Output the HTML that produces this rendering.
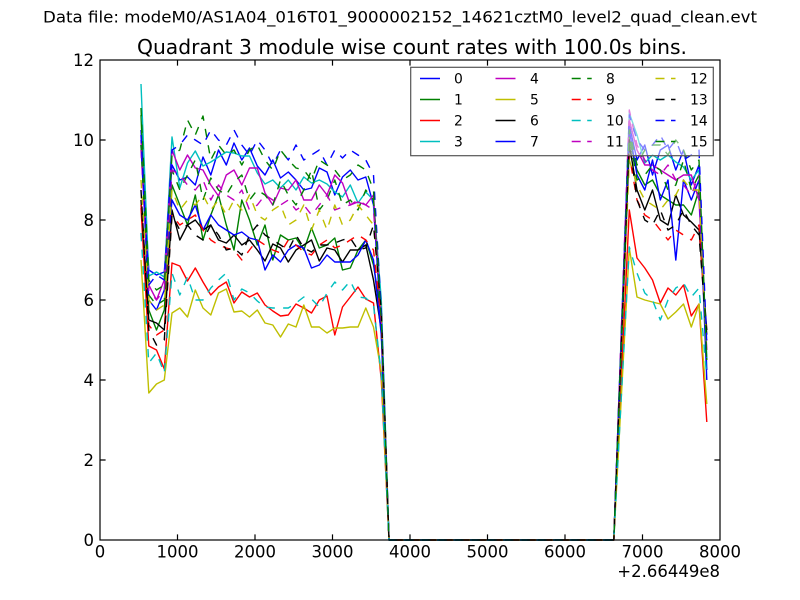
<!DOCTYPE html>
<html><head><meta charset="utf-8"><style>
html,body{margin:0;padding:0;background:#fff;}
svg{display:block;}
text{font-family:"DejaVu Sans","Liberation Sans",sans-serif;fill:#000;}
</style></head><body>
<svg width="800" height="600" viewBox="0 0 800 600" xmlns="http://www.w3.org/2000/svg">
<rect x="0" y="0" width="800" height="600" fill="#fff"/>
<text x="400" y="22.5" font-size="16" text-anchor="middle" textLength="714" lengthAdjust="spacingAndGlyphs">Data file: modeM0/AS1A04_016T01_9000002152_14621cztM0_level2_quad_clean.evt</text>
<text x="412" y="54" font-size="20" text-anchor="middle" textLength="550" lengthAdjust="spacingAndGlyphs">Quadrant 3 module wise count rates with 100.0s bins.</text>
<rect x="100" y="60" width="620" height="480" fill="#fff"/>
<g fill="none" stroke-width="1.4" stroke-linejoin="round">
<polyline stroke="#0000ff" points="141,130 148.8,270 156.5,275 164.3,272 172,165 179.8,180 187.5,177 195.3,185 203,157 210.8,175 218.5,150 226.3,165 234,143 241.8,160 249.5,148 257.3,166 265,175 272.8,160 280.5,178 288.3,172 296,180 303.8,190 311.5,188 319.3,168 327,172 334.8,195 342.5,177 350.3,170 358,180 365.8,177 373.5,205 381.3,330 389,540 613.8,540 621.5,332 629.3,125 637,160 644.8,145 652.5,175 660.3,150 668,145 675.8,170 683.5,150 691.3,185 699,165 706.8,370"/>
<polyline stroke="#008000" points="141,115 148.8,310 156.5,330 164.3,310 172,185 179.8,205 187.5,225 195.3,195 203,240 210.8,215 218.5,195 226.3,225 234,250 241.8,200 249.5,220 257.3,245 265,225 272.8,260 280.5,235 288.3,240 296,238 303.8,250 311.5,228 319.3,248 327,245 334.8,238 342.5,270 350.3,268 358,250 365.8,240 373.5,265 381.3,315 389,540 613.8,540 621.5,340 629.3,140 637,170 644.8,185 652.5,180 660.3,195 668,200 675.8,205 683.5,205 691.3,215 699,190 706.8,360"/>
<polyline stroke="#ff0000" points="141,208 148.8,346 156.5,350 164.3,369 172,263 179.8,266 187.5,281 195.3,268 203,282 210.8,295 218.5,287 226.3,282 234,303 241.8,292 249.5,297 257.3,293 265,305 272.8,311 280.5,316 288.3,315 296,304 303.8,308 311.5,313 319.3,300 327,296 334.8,335 342.5,307 350.3,297 358,287 365.8,299 373.5,303 381.3,380 389,540 613.8,540 621.5,375 629.3,210 637,258 644.8,268 652.5,280 660.3,303 668,288 675.8,295 683.5,285 691.3,316 699,304 706.8,422"/>
<polyline stroke="#00bfbf" points="141,84 148.8,276 156.5,272 164.3,277 172,137 179.8,188 187.5,163 195.3,151 203,166 210.8,162 218.5,157 226.3,152 234,153 241.8,156 249.5,156 257.3,173 265,184 272.8,180 280.5,188 288.3,180 296,190 303.8,177 311.5,183 319.3,180 327,184 334.8,192 342.5,197 350.3,185 358,203 365.8,192 373.5,200 381.3,300 389,540 613.8,540 621.5,327 629.3,113 637,135 644.8,163 652.5,155 660.3,160 668,155 675.8,162 683.5,167 691.3,180 699,170 706.8,360"/>
<polyline stroke="#bf00bf" points="141,140 148.8,285 156.5,300 164.3,280 172,150 179.8,170 187.5,155 195.3,168 203,170 210.8,185 218.5,196 226.3,175 234,170 241.8,185 249.5,168 257.3,168 265,193 272.8,205 280.5,188 288.3,190 296,180 303.8,200 311.5,200 319.3,185 327,195 334.8,175 342.5,183 350.3,205 358,202 365.8,205 373.5,195 381.3,320 389,540 613.8,540 621.5,330 629.3,120 637,150 644.8,165 652.5,165 660.3,170 668,175 675.8,180 683.5,175 691.3,175 699,200 706.8,350"/>
<polyline stroke="#bfbf00" points="141,260 148.8,393 156.5,384 164.3,380 172,313 179.8,308 187.5,317 195.3,290 203,308 210.8,315 218.5,293 226.3,289 234,312 241.8,311 249.5,317 257.3,310 265,323 272.8,325 280.5,337 288.3,324 296,327 303.8,305 311.5,327 319.3,327 327,333 334.8,328 342.5,328 350.3,327 358,327 365.8,308 373.5,327 381.3,372 389,540 613.8,540 621.5,394 629.3,248 637,297 644.8,300 652.5,302 660.3,304 668,319 675.8,312 683.5,304 691.3,327 699,304 706.8,404"/>
<polyline stroke="#000000" points="141,200 148.8,320 156.5,323 164.3,330 172,210 179.8,240 187.5,225 195.3,220 203,230 210.8,225 218.5,240 226.3,243 234,235 241.8,245 249.5,240 257.3,250 265,261 272.8,244 280.5,248 288.3,262 296,250 303.8,245 311.5,240 319.3,261 327,248 334.8,250 342.5,262 350.3,250 358,250 365.8,245 373.5,280 381.3,330 389,540 613.8,540 621.5,345 629.3,145 637,190 644.8,210 652.5,190 660.3,220 668,225 675.8,195 683.5,215 691.3,222 699,230 706.8,330"/>
<polyline stroke="#0000ff" points="141,145 148.8,300 156.5,310 164.3,290 172,200 179.8,215 187.5,220 195.3,205 203,230 210.8,215 218.5,225 226.3,230 234,235 241.8,232 249.5,238 257.3,240 265,270 272.8,255 280.5,262 288.3,250 296,245 303.8,248 311.5,268 319.3,265 327,255 334.8,262 342.5,262 350.3,262 358,255 365.8,240 373.5,260 381.3,335 389,540 613.8,540 621.5,335 629.3,130 637,175 644.8,190 652.5,160 660.3,200 668,180 675.8,260 683.5,180 691.3,200 699,180 706.8,380"/>
<g stroke-dasharray="8.3,8.3">
<polyline stroke="#008000" points="141,145 148.8,295 156.5,305 164.3,300 172,170 179.8,190 187.5,175 195.3,160 203,200 210.8,178 218.5,190 226.3,195 234,182 241.8,175 249.5,200 257.3,190 265,195 272.8,205 280.5,180 288.3,195 296,205 303.8,190 311.5,170 319.3,210 327,200 334.8,180 342.5,205 350.3,200 358,210 365.8,190 373.5,200 381.3,320 389,540 613.8,540 621.5,337 629.3,135 637,180 644.8,175 652.5,165 660.3,170 668,190 675.8,185 683.5,160 691.3,190 699,175 706.8,365"/>
<polyline stroke="#ff0000" points="141,205 148.8,325 156.5,335 164.3,330 172,215 179.8,225 187.5,220 195.3,215 203,230 210.8,240 218.5,245 226.3,248 234,250 241.8,260 249.5,250 257.3,240 265,245 272.8,250 280.5,253 288.3,240 296,245 303.8,252 311.5,255 319.3,245 327,240 334.8,248 342.5,245 350.3,240 358,235 365.8,240 373.5,250 381.3,320 389,540 613.8,540 621.5,347 629.3,155 637,200 644.8,215 652.5,220 660.3,230 668,240 675.8,230 683.5,235 691.3,240 699,225 706.8,340"/>
<polyline stroke="#00bfbf" points="141,233 148.8,363 156.5,353 164.3,373 172,273 179.8,295 187.5,277 195.3,300 203,300 210.8,288 218.5,280 226.3,273 234,300 241.8,289 249.5,293 257.3,301 265,307 272.8,308 280.5,308 288.3,308 296,303 303.8,297 311.5,299 319.3,307 327,293 334.8,282 342.5,290 350.3,281 358,297 365.8,298 373.5,305 381.3,375 389,540 613.8,540 621.5,393 629.3,247 637,273 644.8,293 652.5,300 660.3,320 668,300 675.8,288 683.5,283 691.3,297 699,288 706.8,377"/>
<polyline stroke="#bf00bf" points="141,150 148.8,290 156.5,300 164.3,290 172,170 179.8,175 187.5,185 195.3,190 203,180 210.8,200 218.5,185 226.3,195 234,200 241.8,190 249.5,210 257.3,205 265,195 272.8,200 280.5,205 288.3,200 296,210 303.8,205 311.5,215 319.3,205 327,195 334.8,210 342.5,207 350.3,205 358,200 365.8,205 373.5,210 381.3,315 389,540 613.8,540 621.5,325 629.3,110 637,145 644.8,160 652.5,170 660.3,175 668,165 675.8,180 683.5,185 691.3,195 699,175 706.8,355"/>
<polyline stroke="#bfbf00" points="141,180 148.8,300 156.5,310 164.3,305 172,190 179.8,210 187.5,200 195.3,205 203,195 210.8,210 218.5,200 226.3,215 234,200 241.8,210 249.5,195 257.3,215 265,220 272.8,210 280.5,205 288.3,225 296,220 303.8,205 311.5,230 319.3,210 327,230 334.8,205 342.5,225 350.3,220 358,205 365.8,215 373.5,225 381.3,310 389,540 613.8,540 621.5,350 629.3,160 637,185 644.8,200 652.5,205 660.3,210 668,200 675.8,195 683.5,180 691.3,190 699,190 706.8,350"/>
<polyline stroke="#000000" points="141,190 148.8,330 156.5,345 164.3,340 172,215 179.8,230 187.5,225 195.3,235 203,240 210.8,225 218.5,235 226.3,250 234,248 241.8,255 249.5,235 257.3,225 265,235 272.8,240 280.5,245 288.3,250 296,235 303.8,248 311.5,252 319.3,245 327,245 334.8,243 342.5,240 350.3,238 358,250 365.8,248 373.5,225 381.3,310 389,540 613.8,540 621.5,340 629.3,140 637,200 644.8,220 652.5,225 660.3,210 668,230 675.8,225 683.5,210 691.3,225 699,235 706.8,335"/>
<polyline stroke="#0000ff" points="141,135 148.8,285 156.5,275 164.3,280 172,150 179.8,145 187.5,135 195.3,140 203,145 210.8,130 218.5,140 226.3,145 234,130 241.8,145 249.5,155 257.3,140 265,150 272.8,165 280.5,150 288.3,160 296,145 303.8,160 311.5,155 319.3,150 327,165 334.8,150 342.5,158 350.3,150 358,155 365.8,160 373.5,175 381.3,310 389,540 613.8,540 621.5,330 629.3,115 637,140 644.8,150 652.5,145 660.3,135 668,150 675.8,140 683.5,160 691.3,155 699,150 706.8,345"/>
<polyline stroke="#008000" points="141,108 148.8,280 156.5,290 164.3,285 172,155 179.8,150 187.5,120 195.3,135 203,116 210.8,160 218.5,145 226.3,155 234,150 241.8,165 249.5,150 257.3,145 265,160 272.8,170 280.5,150 288.3,160 296,168 303.8,170 311.5,180 319.3,160 327,165 334.8,170 342.5,180 350.3,175 358,165 365.8,170 373.5,190 381.3,320 389,540 613.8,540 621.5,335 629.3,130 637,165 644.8,150 652.5,145 660.3,145 668,155 675.8,140 683.5,150 691.3,170 699,160 706.8,360"/>
</g>
</g>
<!-- axes frame and ticks -->
<g stroke="#000" stroke-width="1.2" fill="none">
<rect x="100" y="60" width="620" height="480"/>
<path d="M177.5,540v-5.6M255,540v-5.6M332.5,540v-5.6M410,540v-5.6M487.5,540v-5.6M565,540v-5.6M642.5,540v-5.6
M177.5,60v5.6M255,60v5.6M332.5,60v5.6M410,60v5.6M487.5,60v5.6M565,60v5.6M642.5,60v5.6
M100,460h5.6M100,380h5.6M100,300h5.6M100,220h5.6M100,140h5.6
M720,460h-5.6M720,380h-5.6M720,300h-5.6M720,220h-5.6M720,140h-5.6"/>
</g>
<g font-size="16.5" text-anchor="middle">
<text x="100" y="557.5">0</text>
<text x="177.5" y="557.5">1000</text>
<text x="255" y="557.5">2000</text>
<text x="332.5" y="557.5">3000</text>
<text x="410" y="557.5">4000</text>
<text x="487.5" y="557.5">5000</text>
<text x="565" y="557.5">6000</text>
<text x="642.5" y="557.5">7000</text>
<text x="720" y="557.5">8000</text>
</g>
<text x="720" y="577" font-size="16.5" text-anchor="end">+2.66449e8</text>
<g font-size="16.5" text-anchor="end">
<text x="94" y="546">0</text>
<text x="94" y="466">2</text>
<text x="94" y="386">4</text>
<text x="94" y="306">6</text>
<text x="94" y="226">8</text>
<text x="94" y="146">10</text>
<text x="94" y="66">12</text>
</g>
<!-- legend -->
<rect x="410.7" y="67.3" width="302.6" height="88.4" fill="#fff" fill-opacity="0.5" stroke="#555" stroke-width="1.2"/>
<g fill="none" stroke-width="1.4">
<line x1="420" y1="78.5" x2="440" y2="78.5" stroke="#0000ff"/>
<line x1="420" y1="99.5" x2="440" y2="99.5" stroke="#008000"/>
<line x1="420" y1="120.5" x2="440" y2="120.5" stroke="#ff0000"/>
<line x1="420" y1="141.5" x2="440" y2="141.5" stroke="#00bfbf"/>
<line x1="495.5" y1="78.5" x2="515.5" y2="78.5" stroke="#bf00bf"/>
<line x1="495.5" y1="99.5" x2="515.5" y2="99.5" stroke="#bfbf00"/>
<line x1="495.5" y1="120.5" x2="515.5" y2="120.5" stroke="#000000"/>
<line x1="495.5" y1="141.5" x2="515.5" y2="141.5" stroke="#0000ff"/>
<g stroke-dasharray="9,6.5">
<line x1="571.7" y1="78.5" x2="591.7" y2="78.5" stroke="#008000"/>
<line x1="571.7" y1="99.5" x2="591.7" y2="99.5" stroke="#ff0000"/>
<line x1="571.7" y1="120.5" x2="591.7" y2="120.5" stroke="#00bfbf"/>
<line x1="571.7" y1="141.5" x2="591.7" y2="141.5" stroke="#bf00bf"/>
<line x1="655.5" y1="78.5" x2="675.5" y2="78.5" stroke="#bfbf00"/>
<line x1="655.5" y1="99.5" x2="675.5" y2="99.5" stroke="#000000"/>
<line x1="655.5" y1="120.5" x2="675.5" y2="120.5" stroke="#0000ff"/>
<line x1="655.5" y1="141.5" x2="675.5" y2="141.5" stroke="#008000"/>
</g>
</g>
<g font-size="13.9">
<text x="454" y="83.5">0</text>
<text x="454" y="104.5">1</text>
<text x="454" y="125.5">2</text>
<text x="454" y="146.5">3</text>
<text x="530" y="83.5">4</text>
<text x="530" y="104.5">5</text>
<text x="530" y="125.5">6</text>
<text x="530" y="146.5">7</text>
<text x="606" y="83.5">8</text>
<text x="606" y="104.5">9</text>
<text x="606" y="125.5">10</text>
<text x="606" y="146.5">11</text>
<text x="690" y="83.5">12</text>
<text x="690" y="104.5">13</text>
<text x="690" y="125.5">14</text>
<text x="690" y="146.5">15</text>
</g>
</svg>
</body></html>
